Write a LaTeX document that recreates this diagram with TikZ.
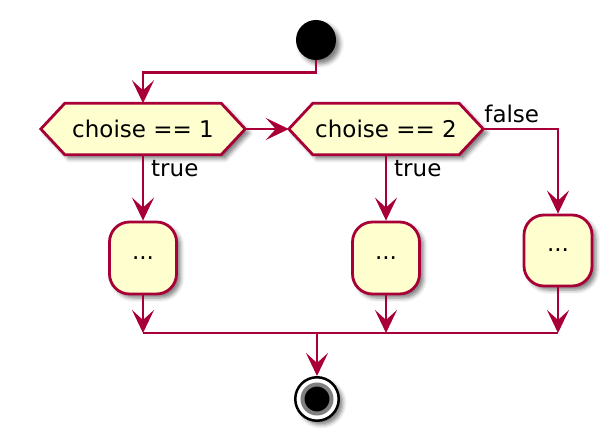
\documentclass[tikz,border=0pt]{standalone}
\usepackage{fontspec}
\setmainfont{DejaVu Sans}
\usetikzlibrary{arrows.meta,shadows.blur,calc}
\definecolor{pline}{HTML}{A80036}
\definecolor{pfill}{HTML}{FEFECE}
\begin{document}
\begin{tikzpicture}[x=1pt,y=-1pt,
  font=\fontsize{23}{27}\selectfont,
  conn/.style={draw=pline,line width=2.8pt},
  arr/.style={conn,-{Stealth[length=23pt,width=22pt,inset=10pt]}},
  shad/.style={blur shadow={shadow xshift=4pt,shadow yshift=-4pt,shadow blur radius=4pt,shadow opacity=50}},
  actbox/.style={draw=pline,fill=pfill,line width=2.8pt,rounded corners=20pt,minimum width=67pt,minimum height=72pt,inner sep=0pt,shad},
  hexnode/.style={minimum height=51pt,inner sep=0pt},
  hexdraw/.style={draw=pline,fill=pfill,line width=2.8pt,shad},
  lbl/.style={inner sep=0pt,anchor=base west}]
\useasboundingbox (0,0) rectangle (612,443);

% start
\node[circle,fill=black,minimum size=40pt,inner sep=0pt,shad] (start) at (316,40) {};

% decisions (frames)
\node[hexnode,minimum width=204pt] (d1) at (143,129) {};
\node[hexnode,minimum width=194pt] (d2) at (386,129) {};
\path[hexdraw] (d1.west) -- ($(d1.north west)+(24,0)$) -- ($(d1.north east)+(-24,0)$) -- (d1.east)
   -- ($(d1.south east)+(-24,0)$) -- ($(d1.south west)+(24,0)$) -- cycle;
\path[hexdraw] (d2.west) -- ($(d2.north west)+(24,0)$) -- ($(d2.north east)+(-24,0)$) -- (d2.east)
   -- ($(d2.south east)+(-24,0)$) -- ($(d2.south west)+(24,0)$) -- cycle;
\node[inner sep=0pt] (d1t) at (d1.center) {choise == 1};
\node[inner sep=0pt] (d2t) at (d2.center) {choise == 2};

% actions
\node[actbox] (b1) at (143,258) {...};
\node[actbox] (b2) at (386,258) {...};
\node[actbox,minimum width=68pt,minimum height=71pt] (b3) at (558,250.5) {...};

% stop
\node[circle,draw=black,fill=white,line width=2.5pt,minimum size=43.5pt,inner sep=0pt,shad] (stop) at (317,399) {};
\node[circle,draw=gray,fill=black,line width=4pt,minimum size=29pt,inner sep=0pt] (stopin) at (stop) {};

% merge point
\coordinate (mrg) at (317,333);

% connectors
\draw[arr] (start.south) -- ++(0,12) -| (d1.north);
\draw[arr] (d1.east) -- (d2.west);
\draw[arr] (d1.south) -- (b1.north);
\draw[arr] (d2.south) -- (b2.north);
\draw[arr] (d2.east) -| (b3.north);
\draw[arr] (b1.south) -- (b1.south |- mrg);
\draw[arr] (b2.south) -- (b2.south |- mrg);
\draw[arr] (b3.south) -- (b3.south |- mrg);
\draw[conn] (b1.south |- mrg) -- (b3.south |- mrg);
\draw[arr] (mrg) -- (stop.north);

% labels
\node[lbl] (t1) at ($(d1.south)+(8,22)$) {true};
\node[lbl] (t2) at ($(d2.south)+(8,22)$) {true};
\node[lbl] (f) at ($(d2.east)+(1,-6)$) {false};
\end{tikzpicture}
\end{document}
